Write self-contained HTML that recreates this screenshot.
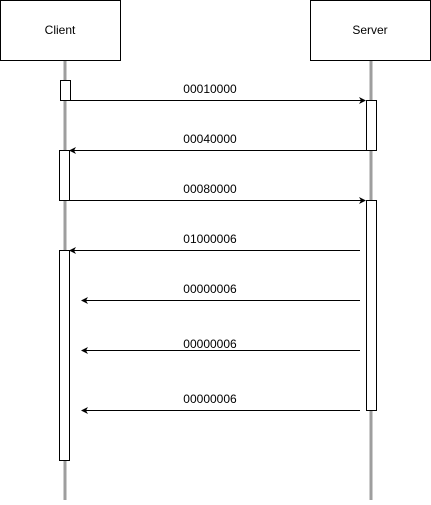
<!DOCTYPE html>
<html><head><style>body{margin:0;background:#fff}</style></head><body>
<svg width="431" height="500" xmlns="http://www.w3.org/2000/svg" font-family="Liberation Sans, Arial, sans-serif" font-size="12">
<line x1="65" y1="60" x2="65" y2="500" stroke="#9e9e9e" stroke-width="3"/>
<line x1="371" y1="60" x2="371" y2="500" stroke="#9e9e9e" stroke-width="3"/>
<rect x="0.5" y="0.5" width="120" height="60" fill="#fff" stroke="#000"/>
<rect x="310.5" y="0.5" width="120" height="60" fill="#fff" stroke="#000"/>
<text x="60" y="34" text-anchor="middle">Client</text>
<text x="370" y="34" text-anchor="middle">Server</text>
<g fill="#fff" stroke="#000">
<rect x="60.5" y="80.5" width="10" height="20"/>
<rect x="366.5" y="100.5" width="10" height="50"/>
<rect x="59.5" y="150.5" width="10" height="50"/>
<rect x="366.5" y="200.5" width="10" height="210"/>
<rect x="59.5" y="250.5" width="10" height="210"/>
</g>
<g stroke="#000" stroke-width="1">
<line x1="70" y1="100.5" x2="362" y2="100.5"/>
<line x1="366" y1="150.5" x2="73" y2="150.5"/>
<line x1="69" y1="200.5" x2="362" y2="200.5"/>
<line x1="360" y1="250.5" x2="73" y2="250.5"/>
<line x1="360" y1="300.5" x2="85" y2="300.5"/>
<line x1="360" y1="350.5" x2="85" y2="350.5"/>
<line x1="360" y1="410.5" x2="85" y2="410.5"/>
</g>
<g fill="#000">
<path d="M366,100.5 l-7,-3.5 l2,3.5 l-2,3.5z"/>
<path d="M69,150.5 l7,-3.5 l-2,3.5 l2,3.5z"/>
<path d="M366,200.5 l-7,-3.5 l2,3.5 l-2,3.5z"/>
<path d="M69,250.5 l7,-3.5 l-2,3.5 l2,3.5z"/>
<path d="M81,300.5 l7,-3.5 l-2,3.5 l2,3.5z"/>
<path d="M81,350.5 l7,-3.5 l-2,3.5 l2,3.5z"/>
<path d="M81,410.5 l7,-3.5 l-2,3.5 l2,3.5z"/>
</g>
<g text-anchor="middle">
<text x="210" y="93">00010000</text>
<text x="210" y="143">00040000</text>
<text x="210" y="193">00080000</text>
<text x="210" y="243">01000006</text>
<text x="210" y="293">00000006</text>
<text x="210" y="348">00000006</text>
<text x="210" y="403">00000006</text>
</g>
</svg>
</body></html>
